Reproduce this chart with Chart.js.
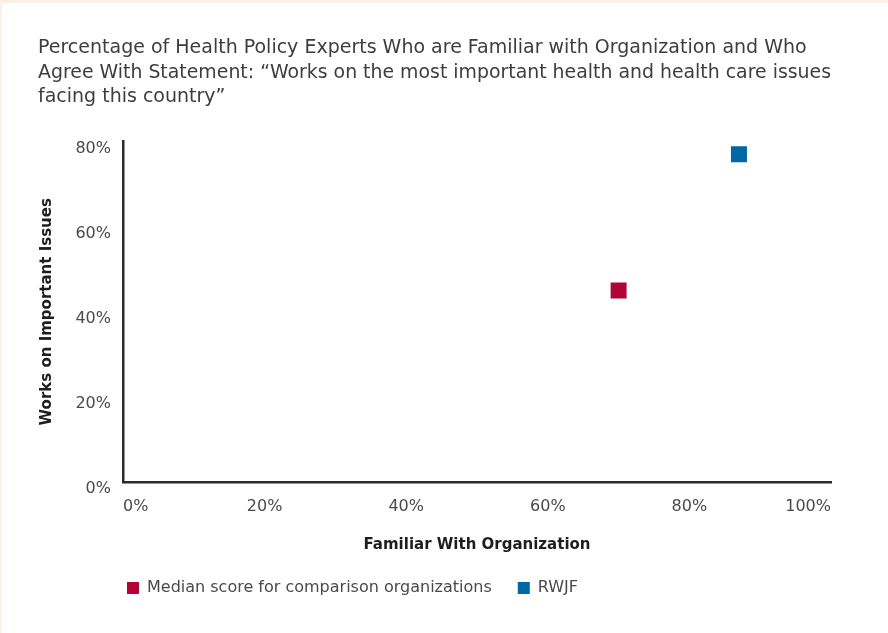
<!DOCTYPE html>
<html>
<head>
<meta charset="utf-8">
<script src="https://cdn.jsdelivr.net/npm/chart.js@4/dist/chart.umd.min.js"></script>
<style>
  html, body { margin: 0; padding: 0; background: #fcf0e6; }
  #panel { position: absolute; left: 2px; top: 3px; width: 886px; height: 630px; background: #ffffff; }
</style>
</head>
<body>
<div id="panel"><canvas id="chart" width="886" height="630"></canvas></div>
<script>
const titleLines = [
  "Percentage of Health Policy Experts Who are Familiar with Organization and Who",
  "Agree With Statement: \u201cWorks on the most important health and health care issues",
  "facing this country\u201d"
];
const seriesNames = ["Median score for comparison organizations", "RWJF"];
const seriesColors = ["#b1053a", "#0067a6"];
const familiarValues = [70, 87];   // x: Familiar With Organization (%)
const importantValues = [45, 77];  // y: Works on Important Issues (%)
const xTickValues = [0, 20, 40, 60, 80, 100];
const yTickValues = [0, 20, 40, 60, 80];

const textColor = "#4a4a4a";
const fontFamily = "'DejaVu Sans', 'Liberation Sans', sans-serif";

// shift legend so its first box lines up under the y axis
const legendShift = {
  id: "legendShift",
  afterLayout(chart) {
    const lg = chart.legend;
    if (lg) {
      lg.left -= 22;
      lg.right -= 22;
    }
  }
};

const datasets = seriesNames.map((name, i) => ({
  label: name,
  data: [{ x: familiarValues[i], y: importantValues[i] }],
  backgroundColor: seriesColors[i],
  borderColor: seriesColors[i],
  borderWidth: 0,
  pointStyle: "rect",
  pointRadius: 11.3,
  pointHoverRadius: 11.3
}));

new Chart(document.getElementById("chart").getContext("2d"), {
  type: "scatter",
  data: { datasets },
  options: {
    responsive: false,
    animation: false,
    layout: { padding: { left: 36, right: 57, top: 33, bottom: 27 } },
    plugins: {
      tooltip: { enabled: false },
      title: {
        display: true,
        text: titleLines,
        align: "start",
        color: "#3d3d3d",
        font: { family: fontFamily, size: 19, weight: "normal", lineHeight: 1.29 },
        padding: { top: 0, bottom: 32 }
      },
      legend: {
        display: true,
        position: "bottom",
        align: "start",
        fullSize: false,
        labels: {
          color: textColor,
          boxWidth: 12,
          boxHeight: 12,
          padding: 26,
          font: { family: fontFamily, size: 16 }
        }
      }
    },
    scales: {
      x: {
        type: "linear",
        min: 0,
        max: 100,
        afterBuildTicks: (s) => { s.ticks = xTickValues.map(v => ({ value: v })); },
        afterFit: (s) => { s.height = 72; },
        grid: { display: false, drawTicks: false },
        border: { display: true, color: "#2b2b2b", width: 2.5 },
        ticks: {
          align: "inner",
          padding: 15,
          color: textColor,
          maxRotation: 0,
          font: { family: fontFamily, size: 16 },
          callback: (v) => v + "%"
        },
        title: {
          display: true,
          text: "Familiar With Organization",
          color: "#1e1e1e",
          font: { family: fontFamily, size: 15, weight: "bold", lineHeight: 1.2 },
          padding: { top: 0, bottom: 0 }
        }
      },
      y: {
        type: "linear",
        min: 0,
        max: 80,
        afterBuildTicks: (s) => { s.ticks = yTickValues.map(v => ({ value: v })); },
        afterFit: (s) => { s.width = 85; },
        grid: { display: false, drawTicks: false },
        border: { display: true, color: "#2b2b2b", width: 2.5 },
        ticks: {
          padding: 12,
          labelOffset: 7,
          color: textColor,
          font: { family: fontFamily, size: 16 },
          callback: (v) => v + "%"
        },
        title: {
          display: true,
          text: "Works on Important Issues",
          color: "#1e1e1e",
          font: { family: fontFamily, size: 15, weight: "bold", lineHeight: 1.2 },
          padding: { top: 0, bottom: 0 }
        }
      }
    }
  },
  plugins: [legendShift]
});
</script>
</body>
</html>
